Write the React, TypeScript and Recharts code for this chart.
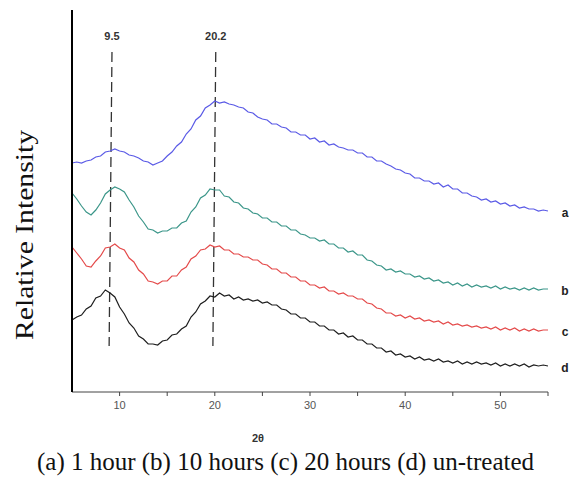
import React from 'react';
import {
  LineChart,
  Line,
  XAxis,
  YAxis,
  ReferenceLine,
  ReferenceDot,
  LabelList,
} from 'recharts';

// 2θ sampling grid, 5° to 55° every 0.5°
const twoTheta = Array.from({ length: 101 }, (_, i) => 5 + i * 0.5);

// relative intensities (stacked, arbitrary units)
const oneHour = [
  229, 230, 229, 231, 232, 235, 236, 240, 241, 243,
  241, 240, 237, 236, 234, 231, 230, 227, 229, 231,
  236, 240, 246, 250, 258, 263, 272, 276, 284, 287,
  291, 289, 290, 288, 287, 285, 284, 280, 279, 275,
  273, 272, 268, 268, 265, 264, 260, 260, 257, 257,
  253, 254, 250, 251, 247, 248, 245, 244, 242, 242,
  239, 239, 235, 235, 231, 231, 228, 226, 223, 222,
  219, 218, 214, 214, 211, 211, 208, 209, 205, 207,
  203, 203, 199, 199, 196, 195, 192, 193, 190, 191,
  188, 189, 186, 187, 184, 185, 183, 183, 181, 182,
  181,
];
const tenHours = [
  199, 193, 186, 180, 177, 182, 189, 198, 202, 205,
  203, 200, 192, 185, 176, 170, 163, 162, 159, 161,
  161, 164, 164, 169, 171, 180, 185, 194, 197, 203,
  202, 202, 196, 195, 190, 189, 184, 183, 179, 178,
  174, 174, 170, 170, 166, 166, 162, 162, 158, 157,
  154, 154, 151, 152, 148, 148, 144, 144, 140, 141,
  137, 137, 132, 131, 127, 126, 122, 123, 120, 121,
  118, 118, 115, 116, 113, 114, 111, 112, 109, 110,
  107, 109, 106, 108, 105, 107, 105, 106, 104, 106,
  103, 105, 103, 104, 102, 104, 102, 104, 102, 103,
  103,
];
const twentyHours = [
  145, 139, 133, 126, 125, 131, 136, 144, 145, 148,
  144, 142, 134, 130, 122, 118, 111, 110, 108, 111,
  111, 116, 116, 122, 125, 133, 136, 142, 143, 147,
  145, 146, 142, 142, 138, 138, 135, 135, 132, 132,
  128, 127, 123, 123, 119, 119, 115, 115, 111, 111,
  107, 107, 104, 105, 101, 101, 98, 99, 96, 96,
  93, 93, 89, 88, 84, 83, 79, 79, 76, 77,
  74, 76, 73, 74, 71, 72, 70, 71, 68, 70,
  67, 68, 66, 67, 65, 66, 64, 65, 63, 65,
  62, 64, 62, 64, 61, 63, 61, 63, 61, 62,
  62,
];
const untreated = [
  72, 75, 77, 83, 86, 94, 96, 102, 99, 95,
  85, 78, 69, 64, 56, 53, 48, 48, 47, 51,
  52, 57, 58, 63, 66, 75, 80, 88, 91, 96,
  95, 99, 96, 97, 93, 95, 92, 93, 91, 92,
  89, 90, 87, 87, 83, 82, 78, 78, 74, 74,
  70, 70, 66, 66, 62, 62, 58, 59, 55, 56,
  52, 52, 48, 48, 44, 44, 40, 41, 37, 38,
  35, 36, 33, 35, 32, 33, 31, 33, 30, 31,
  29, 31, 28, 30, 28, 30, 28, 29, 27, 29,
  26, 28, 26, 28, 26, 28, 25, 27, 26, 27,
  26,
];

const seriesKeys = ['a', 'b', 'c', 'd'];
const seriesColors = ['#5a5ae6', '#3b9689', '#e44a4a', '#1e1e1e'];
const xTicks = [10, 15, 20, 25, 30, 35, 40, 45, 50, 55];
const peakLabels = ['9.5', '20.2'];
const peakTops = [9.2, 20.1];
const peakBottoms = [8.9, 19.8];

const data = twoTheta.map((t, i) => ({
  t,
  a: oneHour[i],
  b: tenHours[i],
  c: twentyHours[i],
  d: untreated[i],
}));

const lastIdx = twoTheta.length - 1;

const endLabel = (name: string) => (props: any) => {
  if (props.index !== lastIdx) return null;
  return (
    <text
      x={props.x + 17}
      y={props.y + 6}
      textAnchor="middle"
      fontFamily="Liberation Sans, Arial, sans-serif"
      fontWeight="bold"
      fontSize={12}
      fill="#222"
    >
      {name}
    </text>
  );
};

export default function App() {
  return (
    <div style={{ position: 'absolute', left: 0, top: 0, width: 571, height: 497, background: '#fff' }}>
      <LineChart
        width={571}
        height={497}
        data={data}
        margin={{ top: 10, right: 23, bottom: 75, left: 71 }}
      >
        <XAxis
          dataKey="t"
          type="number"
          domain={[5, 55]}
          ticks={xTicks}
          tickFormatter={(v: number) => (v % 10 === 0 && v < 55 ? String(v) : '')}
          height={30}
          tickSize={4}
          axisLine={{ stroke: '#444', strokeWidth: 1 }}
          tickLine={{ stroke: '#444' }}
          tick={{ fontSize: 11, fill: '#555', fontFamily: 'Liberation Sans, Arial, sans-serif', dy: 3 }}
          label={{
            content: () => (
              <text
                x={258}
                y={442}
                textAnchor="middle"
                fontFamily="Liberation Sans, Arial, sans-serif"
                fontWeight="bold"
                fontSize={11}
                fill="#333"
              >
                2θ
              </text>
            ),
          }}
        />
        <YAxis
          type="number"
          domain={[0, 382]}
          width={1}
          tick={false}
          tickLine={false}
          axisLine={{ stroke: '#000', strokeWidth: 2 }}
          label={{
            content: () => (
              <text
                x={33}
                y={235}
                transform="rotate(-90 33 235)"
                textAnchor="middle"
                fontFamily="Liberation Serif, Times New Roman, serif"
                fontSize={26}
                textLength={210}
                lengthAdjust="spacingAndGlyphs"
                fill="#111"
              >
                Relative Intensity
              </text>
            ),
          }}
        />
        {peakLabels.map((lbl, i) => (
          <ReferenceLine
            key={lbl}
            segment={[
              { x: peakTops[i], y: 340 },
              { x: peakBottoms[i], y: 46 },
            ]}
            stroke="#333"
            strokeWidth={1.3}
            strokeDasharray="10 5"
          />
        ))}
        {peakLabels.map((lbl, i) => (
          <ReferenceDot
            key={'d' + lbl}
            x={peakTops[i]}
            y={356}
            r={0}
            fill="none"
            stroke="none"
            label={{
              value: lbl,
              position: 'center',
              fontSize: 11,
              fontWeight: 'bold',
              fill: '#333',
              fontFamily: 'Liberation Sans, Arial, sans-serif',
            }}
          />
        ))}
        {seriesKeys.map((k, i) => (
          <Line
            key={k}
            type="linear"
            dataKey={k}
            stroke={seriesColors[i]}
            strokeWidth={1.2}
            dot={false}
            isAnimationActive={false}
          >
            <LabelList dataKey={k} content={endLabel(k)} />
          </Line>
        ))}
      </LineChart>
      <div
        style={{
          position: 'absolute',
          left: 0,
          top: 448,
          width: 571,
          textAlign: 'center',
          fontFamily: 'Liberation Serif, Times New Roman, serif',
          fontSize: 25,
          color: '#111',
          whiteSpace: 'nowrap',
        }}
      >
        (a) 1 hour (b) 10 hours (c) 20 hours (d) un-treated
      </div>
    </div>
  );
}
